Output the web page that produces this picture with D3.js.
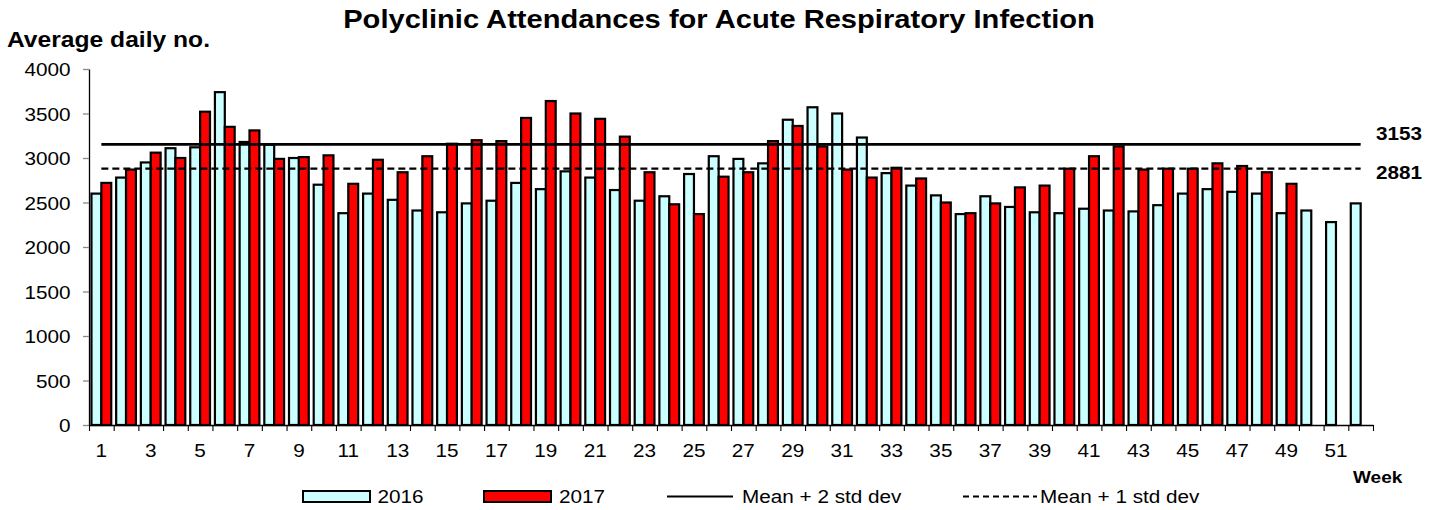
<!DOCTYPE html>
<html>
<head>
<meta charset="utf-8">
<script src="https://cdn.jsdelivr.net/npm/d3@7"></script>
<style>
  html, body { margin: 0; padding: 0; background: #fff; }
  svg { display: block; }
  text { font-family: "Liberation Sans", Arial, sans-serif; fill: #000; }
</style>
</head>
<body>
<svg id="chart" width="1437" height="510"></svg>
<script>
// ---------------- DATA ----------------
const weeks = d3.range(1, 53);
const y2016 = [2600,2780,2950,3110,3120,3740,3180,3150,3000,2700,2380,2600,2530,2410,2390,2490,2520,2720,2650,2850,2780,2640,2520,2570,2820,3020,2990,2940,3430,3570,3500,3230,2830,2690,2580,2370,2570,2450,2390,2380,2430,2410,2400,2470,2600,2650,2620,2600,2380,2410,2280,2490];
const y2017 = [2720,2870,3060,3000,3520,3350,3310,2990,3010,3030,2710,2980,2840,3020,3160,3200,3190,3450,3640,3500,3440,3240,2840,2480,2370,2790,2840,3190,3360,3130,2870,2780,2890,2770,2500,2380,2490,2670,2690,2880,3020,3130,2870,2880,2880,2940,2910,2840,2710,null,null,null];
const seriesNames = ["2016", "2017"];
const mean2sd = 3153;
const mean1sd = 2881;
const yTicks = [0, 500, 1000, 1500, 2000, 2500, 3000, 3500, 4000];
const chartTitle = "Polyclinic Attendances for Acute Respiratory Infection";
const yTitle = "Average daily no.";
const xTitle = "Week";
const lineNames = ["Mean + 2 std dev", "Mean + 1 std dev"];

// ---------------- LAYOUT ----------------
const SX = 1.12; // horizontal text stretch of the reference
const colors = { "2016": "#CCFFFF", "2017": "#FF0000" };
const plotL = 89, plotR = 1373, plotT = 69, plotB = 425;

const svg = d3.select("#chart");

const x = d3.scaleBand().domain(weeks).range([plotL, plotR]).paddingInner(0).paddingOuter(0);
const xInner = d3.scaleBand().domain(seriesNames).range([0, x.bandwidth()]).paddingInner(0).paddingOuter(0.25);
const xLin = d3.scaleLinear().domain([0, 52]).range([plotL, plotR]);
const y = d3.scaleLinear().domain([0, 4000]).range([plotB, plotT]);

function stretchText(sel, px, py) {
  sel.attr("transform", `translate(${px},${py}) scale(${SX},1)`);
}

// Bars
const rows = weeks.map((w, i) => ({ week: w, vals: [ {s: "2016", v: y2016[i]}, {s: "2017", v: y2017[i]} ] }));
const groups = svg.append("g").selectAll("g").data(rows).join("g")
  .attr("transform", d => `translate(${x(d.week)},0)`);
groups.selectAll("rect").data(d => d.vals.filter(e => e.v != null)).join("rect")
  .attr("x", d => xInner(d.s))
  .attr("width", xInner.bandwidth())
  .attr("y", d => y(d.v))
  .attr("height", d => y(0) - y(d.v))
  .attr("fill", d => colors[d.s])
  .attr("stroke", "#000")
  .attr("stroke-width", 2.2);

// Y axis
const yAxis = svg.append("g").attr("transform", `translate(${plotL},0)`)
  .call(d3.axisLeft(y).tickValues(yTicks).tickFormat(d3.format("d")).tickSize(6).tickSizeOuter(0).tickPadding(0));
yAxis.select(".domain").attr("stroke", "#000").attr("stroke-width", 1.3);
yAxis.selectAll(".tick line").attr("stroke", "#888").attr("stroke-width", 1.3);
yAxis.selectAll(".tick text")
  .attr("x", -16.4).attr("dy", "0.36em")
  .style("font-size", "18.5px")
  .attr("transform", `scale(${SX},1)`);

// X axis: boundary ticks
const xTickAxis = svg.append("g").attr("transform", `translate(0,${plotB})`)
  .call(d3.axisBottom(xLin).tickValues(d3.range(0, 53)).tickSize(6).tickSizeOuter(0).tickFormat(""));
xTickAxis.select(".domain").attr("stroke", "#000").attr("stroke-width", 1.3);
xTickAxis.selectAll(".tick line").attr("stroke", "#000").attr("stroke-width", 1.1);

// X axis labels (odd weeks) at band centres
const xLabAxis = svg.append("g").attr("transform", `translate(0,${plotB})`)
  .call(d3.axisBottom(x).tickSize(0).tickSizeOuter(0).tickFormat(d => d % 2 === 1 ? d : ""));
xLabAxis.select(".domain").remove();
xLabAxis.selectAll(".tick text")
  .attr("y", 0).attr("dy", 0)
  .style("font-size", "18.5px")
  .attr("transform", `translate(0,32) scale(${SX},1)`);

// Reference lines (from centre of first week to centre of last)
const x0 = x(weeks[0]) + x.bandwidth() / 2;
const x1 = x(weeks[weeks.length - 1]) + x.bandwidth() / 2;
svg.append("line").attr("x1", x0).attr("x2", x1).attr("y1", y(mean2sd)).attr("y2", y(mean2sd))
  .attr("stroke", "#000").attr("stroke-width", 2.8);
svg.append("line").attr("x1", x0).attr("x2", x1).attr("y1", y(mean1sd)).attr("y2", y(mean1sd))
  .attr("stroke", "#000").attr("stroke-width", 2.3).attr("stroke-dasharray", "7,4");

svg.append("text").text(mean2sd).style("font-size", "18.5px").style("font-weight", "bold")
  .call(stretchText, 1376, y(mean2sd) - 4.5);
svg.append("text").text(mean1sd).style("font-size", "18.5px").style("font-weight", "bold")
  .call(stretchText, 1376, y(mean1sd) + 10.5);

// Titles
svg.append("text").text(chartTitle).attr("text-anchor", "middle")
  .style("font-size", "26px").style("font-weight", "bold")
  .call(stretchText, 719, 28);
svg.append("text").text(yTitle)
  .style("font-size", "22px").style("font-weight", "bold")
  .call(stretchText, 7, 46.5);
svg.append("text").text(xTitle)
  .style("font-size", "17px").style("font-weight", "bold")
  .call(stretchText, 1353, 483);

// Legend
const leg = svg.append("g");
const legY = 496.5;
[["2016", 303, 377.5], ["2017", 484, 559]].forEach(([s, bx, tx]) => {
  leg.append("rect").attr("x", bx).attr("y", legY - 5.5).attr("width", 67).attr("height", 11)
    .attr("fill", colors[s]).attr("stroke", "#000").attr("stroke-width", 2);
  leg.append("text").text(s).style("font-size", "18.5px").call(stretchText, tx, legY + 6.5);
});
leg.append("line").attr("x1", 667).attr("x2", 733).attr("y1", legY).attr("y2", legY)
  .attr("stroke", "#000").attr("stroke-width", 2);
leg.append("text").text(lineNames[0]).style("font-size", "18.5px").call(stretchText, 742, legY + 6.5);
leg.append("line").attr("x1", 963).attr("x2", 1037).attr("y1", legY).attr("y2", legY)
  .attr("stroke", "#000").attr("stroke-width", 2).attr("stroke-dasharray", "6,4");
leg.append("text").text(lineNames[1]).style("font-size", "18.5px").call(stretchText, 1040, legY + 6.5);
</script>
</body>
</html>
